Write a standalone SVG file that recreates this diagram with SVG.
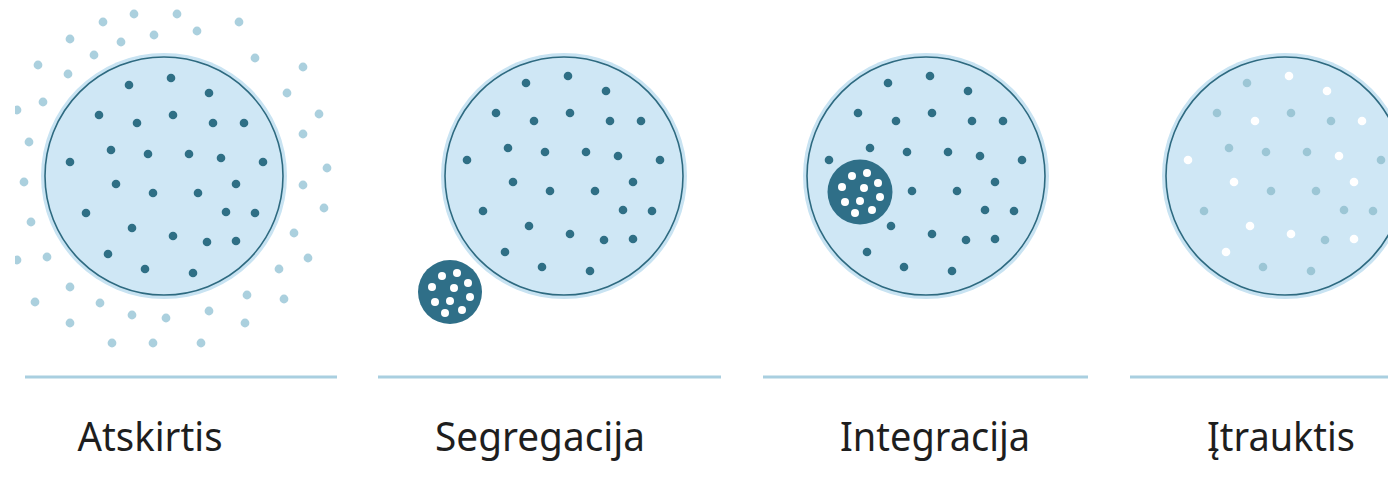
<svg xmlns="http://www.w3.org/2000/svg" xmlns:xlink="http://www.w3.org/1999/xlink" width="1388" height="485" viewBox="0 0 1388 485">
<style>
.halo{fill:#c8e3f2}
.body{fill:#cfe7f5;stroke:#2e6a80;stroke-width:1.6}
.dark{fill:#2f6f85}
.muted{fill:#9cc6d5}
.white{fill:#ffffff}
.outer{fill:#abd0de}
.cell{fill:#2f6f88}
.hole{fill:#ffffff}
.rule{stroke:#a9cfe0;stroke-width:3;fill:none}
.label{font-family:"Noto Sans","Open Sans",sans-serif;font-size:40px;fill:#1e1e1e;text-anchor:middle}
</style>
<defs>
<clipPath id="clipL"><rect x="15" y="0" width="400" height="485"/></clipPath>
<g id="dA">
<circle cx="129" cy="85" r="4.3"/><circle cx="99" cy="115" r="4.3"/><circle cx="173" cy="115" r="4.3"/><circle cx="213" cy="123" r="4.3"/>
<circle cx="111" cy="150" r="4.3"/><circle cx="148" cy="154" r="4.3"/><circle cx="189" cy="154" r="4.3"/><circle cx="263" cy="162" r="4.3"/>
<circle cx="153" cy="193" r="4.3"/><circle cx="198" cy="193" r="4.3"/><circle cx="86" cy="213" r="4.3"/><circle cx="226" cy="212" r="4.3"/>
<circle cx="255" cy="213" r="4.3"/><circle cx="207" cy="242" r="4.3"/><circle cx="145" cy="269" r="4.3"/><circle cx="193" cy="273" r="4.3"/>
</g>
<g id="dB">
<circle cx="171" cy="78" r="4.3"/><circle cx="209" cy="93" r="4.3"/><circle cx="137" cy="123" r="4.3"/><circle cx="244" cy="123" r="4.3"/>
<circle cx="221" cy="158" r="4.3"/><circle cx="70" cy="162" r="4.3"/><circle cx="116" cy="184" r="4.3"/><circle cx="236" cy="184" r="4.3"/>
<circle cx="132" cy="228" r="4.3"/><circle cx="173" cy="236" r="4.3"/><circle cx="236" cy="241" r="4.3"/><circle cx="108" cy="254" r="4.3"/>
</g>
<g id="holes" class="hole">
<circle cx="-8" cy="-16" r="4"/><circle cx="7" cy="-19" r="4"/><circle cx="-18" cy="-5" r="4"/><circle cx="18" cy="-9" r="4"/>
<circle cx="4" cy="-4" r="4"/><circle cx="-15" cy="10" r="4"/><circle cx="0" cy="9" r="4"/><circle cx="20" cy="5" r="4"/>
<circle cx="12" cy="18" r="4"/><circle cx="-5" cy="21" r="4"/>
</g>
</defs>
<rect x="0" y="0" width="1388" height="485" fill="#ffffff"/>

<g id="node-atskirtis">
<g class="outer" clip-path="url(#clipL)">
<circle cx="134" cy="14" r="4.4"/><circle cx="177" cy="14" r="4.4"/><circle cx="239" cy="22" r="4.4"/><circle cx="103" cy="22" r="4.4"/>
<circle cx="197" cy="31" r="4.4"/><circle cx="154" cy="35" r="4.4"/><circle cx="70" cy="39" r="4.4"/><circle cx="121" cy="42" r="4.4"/>
<circle cx="94" cy="55" r="4.4"/><circle cx="255" cy="58" r="4.4"/><circle cx="38" cy="65" r="4.4"/><circle cx="68" cy="74" r="4.4"/>
<circle cx="303" cy="67" r="4.4"/><circle cx="287" cy="93" r="4.4"/><circle cx="43" cy="102" r="4.4"/><circle cx="17" cy="110" r="4.4"/>
<circle cx="319" cy="114" r="4.4"/><circle cx="29" cy="142" r="4.4"/><circle cx="303" cy="134" r="4.4"/><circle cx="327" cy="168" r="4.4"/>
<circle cx="24" cy="182" r="4.4"/><circle cx="303" cy="185" r="4.4"/><circle cx="324" cy="208" r="4.4"/><circle cx="31" cy="222" r="4.4"/>
<circle cx="294" cy="233" r="4.4"/><circle cx="17" cy="260" r="4.4"/><circle cx="47" cy="257" r="4.4"/><circle cx="308" cy="258" r="4.4"/>
<circle cx="279" cy="269" r="4.4"/><circle cx="70" cy="287" r="4.4"/><circle cx="247" cy="295" r="4.4"/><circle cx="284" cy="299" r="4.4"/>
<circle cx="35" cy="302" r="4.4"/><circle cx="100" cy="303" r="4.4"/><circle cx="209" cy="311" r="4.4"/><circle cx="132" cy="315" r="4.4"/>
<circle cx="166" cy="318" r="4.4"/><circle cx="70" cy="323" r="4.4"/><circle cx="245" cy="323" r="4.4"/><circle cx="112" cy="343" r="4.4"/>
<circle cx="153" cy="343" r="4.4"/><circle cx="201" cy="343" r="4.4"/>
</g>
<circle class="halo" cx="164" cy="176" r="123"/>
<circle class="body" cx="164" cy="176" r="119"/>
<use xlink:href="#dA" class="dark"/>
<use xlink:href="#dB" class="dark"/>
<text class="label" x="150" y="451" textLength="145" lengthAdjust="spacingAndGlyphs">Atskirtis</text>
</g>

<g id="node-segregacija">
<circle class="halo" cx="564" cy="176" r="123"/>
<circle class="body" cx="564" cy="176" r="119"/>
<use xlink:href="#dA" class="dark" transform="translate(397,-2)"/>
<use xlink:href="#dB" class="dark" transform="translate(397,-2)"/>
<circle class="cell" cx="450" cy="292" r="32"/>
<use xlink:href="#holes" transform="translate(450,292)"/>
<text class="label" x="540" y="451" textLength="210" lengthAdjust="spacingAndGlyphs">Segregacija</text>
</g>

<g id="node-integracija">
<circle class="halo" cx="926" cy="176" r="123"/>
<circle class="body" cx="926" cy="176" r="119"/>
<use xlink:href="#dA" class="dark" transform="translate(759,-2)"/>
<use xlink:href="#dB" class="dark" transform="translate(759,-2)"/>
<circle class="cell" cx="860" cy="192" r="32.5"/>
<use xlink:href="#holes" transform="translate(860,192)"/>
<text class="label" x="935" y="451" textLength="190" lengthAdjust="spacingAndGlyphs">Integracija</text>
</g>

<g id="node-itrauktis">
<circle class="halo" cx="1285" cy="176" r="123"/>
<circle class="body" cx="1285" cy="176" r="119"/>
<use xlink:href="#dA" class="muted" transform="translate(1118,-2)"/>
<use xlink:href="#dB" class="white" transform="translate(1118,-2)"/>
<text class="label" x="1281" y="451" textLength="148" lengthAdjust="spacingAndGlyphs">Įtrauktis</text>
</g>

<g id="connectors">
<line class="rule" x1="25" y1="377" x2="337" y2="377"/>
<line class="rule" x1="378" y1="377" x2="721" y2="377"/>
<line class="rule" x1="763" y1="377" x2="1088" y2="377"/>
<line class="rule" x1="1130" y1="377" x2="1388" y2="377"/>
</g>
</svg>
